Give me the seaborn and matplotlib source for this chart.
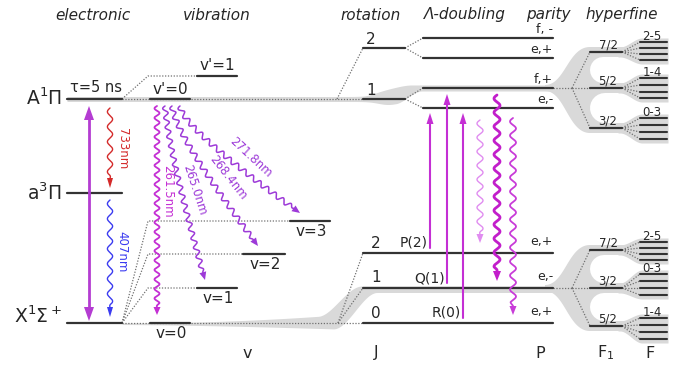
import numpy as np
import pandas as pd
import matplotlib
matplotlib.use('Agg')
import matplotlib.pyplot as plt
import seaborn as sns

# ---------------- data (level heights, px from top) ----------------
elec_labels = [r'A$^1\Pi$', r'a$^3\Pi$', r'X$^1\Sigma^+$']
elec_E = [99, 193, 323]

vib_up_labels = ["v'=0", "v'=1"]
vib_up_E = [99, 76]
vib_lo_labels = ['v=0', 'v=1', 'v=2', 'v=3']
vib_lo_E = [323, 288, 254, 221]

rot_up_labels = ['1', '2']
rot_up_E = [99, 48]
rot_lo_labels = ['0', '1', '2']
rot_lo_E = [323, 288, 253]

lam_labels = ['e,-', 'f,+', 'e,+', 'f, -']
lam_E = [108, 88, 58, 38]
par_lo_labels = ['e,+', 'e,-', 'e,+']

hf_up_F1 = ['7/2', '5/2', '3/2']
hf_up_E = [52, 88, 128]
hf_up_F = ['2-5', '1-4', '0-3']
hf_up_sub = [[42, 48, 54, 60], [78, 85, 92, 98], [118, 125, 132, 139]]
hf_lo_F1 = ['7/2', '3/2', '5/2']
hf_lo_E = [250, 288, 326]
hf_lo_F = ['2-5', '0-3', '1-4']
hf_lo_sub = [[242, 248, 254, 260], [274, 281, 288, 295], [318, 325, 332, 339]]

decay_labels = ['261.5nm', '265.0nm', '268.4nm', '271.8nm']
branch_labels = ['P(2)', 'Q(1)', 'R(0)']
branch_from_J = [2, 1, 0]
branch_to = [0, 1, 0]          # index into lam_E (e,- / f,+)

headers = ['electronic', 'vibration', 'rotation', '\u039b-doubling', 'parity', 'hyperfine']
footers = ['v', 'J', 'P', r'F$_1$', 'F']

# ---------------- layout / style ----------------
header_x = [93, 217, 371, 465, 548, 622]
footer_x = [247, 376, 540, 606, 650]
ELEC = (67, 122)
vib_up_x = [(150, 190), (197, 237)]
vib_lo_x = [(150, 190), (197, 237), (243, 285), (290, 330)]
ROT = (363, 405)
LAM = (423, 553)
F1X = (590, 622)
FX = (640, 667)

GREY = '#d9d9d9'
LINE = '#333333'
DOT = '#707070'
MAG = '#c42fd4'
VIO = '#9d3ad8'

sns.set_theme(style='white')
plt.rcParams['font.family'] = ['DejaVu Sans']
plt.rcParams['mathtext.fontset'] = 'dejavusans'

fig = plt.figure(figsize=(6.77, 3.66), dpi=100)
ax = fig.add_axes([0, 0, 1, 1])


def smooth(t):
    t = np.clip(t, 0, 1)
    return t * t * (3 - 2 * t)


def dotted(xs, ys):
    ax.plot(xs, ys, color=DOT, lw=0.9, ls=(0, (1, 1.3)), zorder=4)


def head(tip, d, length, hw, color):
    tip = np.asarray(tip, float)
    d = np.asarray(d, float) / np.hypot(*d)
    n = np.array([-d[1], d[0]])
    base = tip - d * length
    tri = np.array([tip, base + n * hw, base - n * hw])
    ax.fill(tri[:, 0], tri[:, 1], color=color, lw=0, zorder=7)


def arrow(x, y0, y1, color, lw, hl=11, hw=3.5, both=False):
    d = np.sign(y1 - y0)
    a = y0 + d * hl * 0.8 if both else y0
    ax.plot([x, x], [a, y1 - d * hl * 0.8], color=color, lw=lw, zorder=6)
    head((x, y1), (0, d), hl, hw, color)
    if both:
        head((x, y0), (0, -d), hl, hw, color)


def wavy(pts, color, lw, amp=2.6, lam=10, hl=8, hw=3.5):
    pts = np.asarray(pts, float)
    t = np.linspace(0, 1, 500)[:, None]
    if len(pts) == 3:
        path = (1 - t) ** 2 * pts[0] + 2 * (1 - t) * t * pts[1] + t ** 2 * pts[2]
    else:
        path = (1 - t) * pts[0] + t * pts[1]
    seg = np.hypot(*np.diff(path, axis=0).T)
    s = np.concatenate([[0], np.cumsum(seg)])
    L = s[-1]
    tx = np.gradient(path[:, 0], s)
    ty = np.gradient(path[:, 1], s)
    nn = np.hypot(tx, ty)
    tx, ty = tx / nn, ty / nn
    env = np.clip((L - hl - s) / 4, 0, 1)
    off = amp * np.sin(2 * np.pi * s / lam) * env
    x = path[:, 0] - ty * off
    y = path[:, 1] + tx * off
    m = s <= L - hl * 0.7
    ax.plot(x[m], y[m], color=color, lw=lw, zorder=6, solid_capstyle='round')
    head(path[-1], (tx[-1], ty[-1]), hl, hw, color)


# ---------------- grey bands ----------------
x = np.linspace(67, 553, 800)
top = 96.5 + (lam_E[1] - 3 - 96.5) * smooth((x - 362) / 50) - 1.5 * np.exp(-((x - 380) / 15) ** 2)
bot = 101.5 + 3 * np.exp(-((x - 388) / 14) ** 2) + (lam_E[1] + 3 - 101.5) * smooth((x - 396) / 26)
ax.fill_between(x, top, bot, color=GREY, lw=0, zorder=1)

x = np.linspace(122, 553, 800)
r = np.clip((x - 122) / 215, 0, None)
top = (323 - 8 * r ** 2) + (rot_lo_E[1] - 2 - (323 - 8 * r ** 2)) * smooth((x - 318) / 44)
bot = (324.5 + 4.5 * r ** 1.5) + (rot_lo_E[1] + 4.5 - (324.5 + 4.5 * r ** 1.5)) * smooth((x - 333) / 44)
ax.fill_between(x, top, bot, color=GREY, lw=0, zorder=1)


def hyperfine(y0, ys, sub, f1_labels, f_labels):
    ymin, ymax = min(ys) - 5, max(ys) + 5
    t = np.linspace(0, 1, 80)[:, None]
    def bez(p0, p1, p2, p3):
        return (1 - t) ** 3 * p0 + 3 * (1 - t) ** 2 * t * p1 + 3 * (1 - t) * t ** 2 * p2 + t ** 3 * p3
    up = bez(np.array([545, y0 - 3]), np.array([565, y0 - 3]), np.array([568, ymin]), np.array([590, ymin]))
    lo = bez(np.array([545, y0 + 3]), np.array([565, y0 + 3]), np.array([568, ymax]), np.array([590, ymax]))
    poly = np.vstack([up, [[F1X[1] + 2, ymin], [F1X[1] + 2, ymax]], lo[::-1]])
    ax.fill(poly[:, 0], poly[:, 1], color=GREY, lw=0, zorder=1)
    ys_sorted = sorted(ys)
    for a, b in zip(ys_sorted[:-1], ys_sorted[1:]):
        w = (b - 5) - (a + 5)
        ax.plot([590 + w / 2, 650], [(a + b) / 2] * 2, color='white', lw=w * 0.72,
                solid_capstyle='round', zorder=2)
    # F sub-level fans
    xf = np.linspace(F1X[1] - 4, FX[1] + 1, 120)
    for yb, fs, l1, lf in zip(ys, sub, f1_labels, f_labels):
        k = smooth((xf - F1X[1] + 2) / 22)
        ax.fill_between(xf, yb - 5 + (min(fs) - 4 - yb + 5) * k, yb + 5 + (max(fs) + 4 - yb - 5) * k,
                        color=GREY, lw=0, zorder=3)
        for yf in fs:
            dotted([F1X[1], FX[0]], [yb, yf])
            ax.plot(FX, [yf, yf], color=LINE, lw=1.5, zorder=5)
        ax.plot(F1X, [yb, yb], color=LINE, lw=1.6, zorder=5)
        ax.text(608, yb - 7, l1, ha='center', va='center', fontsize=8.5, zorder=8)
        ax.text(652, min(fs) - 6, lf, ha='center', va='center', fontsize=8.5, zorder=8)
    # dotted tree
    dotted([LAM[1], 572], [y0, y0])
    for yb in ys:
        dotted([572, F1X[0]], [y0, yb])


hyperfine(lam_E[1], hf_up_E, hf_up_sub, hf_up_F1, hf_up_F)
hyperfine(rot_lo_E[1], hf_lo_E, hf_lo_sub, hf_lo_F1, hf_lo_F)

# ---------------- dotted connectors ----------------
dotted([ELEC[1], ROT[0]], [elec_E[0]] * 2)
dotted([ELEC[1], 148, vib_up_x[1][0]], [elec_E[0], vib_up_E[1], vib_up_E[1]])
dotted([ELEC[1], ROT[0]], [elec_E[2]] * 2)
for (x0, _), e in zip(vib_lo_x[1:], vib_lo_E[1:]):
    dotted([ELEC[1], 148, x0], [elec_E[2], e, e])
dotted([337, ROT[0]], [rot_up_E[0], rot_up_E[1]])
for e in rot_lo_E[1:]:
    dotted([338, ROT[0]], [rot_lo_E[0], e])
for j, e in enumerate(rot_up_E):
    for lv in lam_E[2 * j:2 * j + 2]:
        dotted([ROT[1], LAM[0]], [e, lv])

# ---------------- level lines (seaborn) ----------------
segs = []
def add(x0, x1, y):
    segs.append({'x': x0, 'y': y, 'seg': len(segs)})
    segs.append({'x': x1, 'y': y, 'seg': len(segs) - 1})

for e in elec_E:
    add(*ELEC, e)
for xr, e in zip(vib_up_x, vib_up_E):
    add(*xr, e)
for xr, e in zip(vib_lo_x, vib_lo_E):
    add(*xr, e)
for e in rot_up_E:
    add(*ROT, e)
for e in rot_lo_E:
    add(ROT[0], LAM[1], e)
for e in lam_E:
    add(*LAM, e)
df = pd.DataFrame(segs)
sns.lineplot(data=df, x='x', y='y', units='seg', estimator=None, sort=False,
             color=LINE, lw=1.6, ax=ax, legend=False, zorder=5)

# ---------------- transitions ----------------
arrow(89, elec_E[0] + 7, elec_E[2] - 2, '#b43cd2', 2.0, hl=14, hw=5, both=True)
wavy([(110, elec_E[0] + 9), (110, elec_E[1] - 5)], '#d42a2a', 1.0, amp=2.6, lam=15, hl=10, hw=3)
wavy([(110, elec_E[1] + 7), (110, elec_E[2] - 6)], '#3b3bf0', 1.0, amp=2.6, lam=15, hl=10, hw=3)
ax.text(122, 149, '733nm', rotation=-90, color='#d42a2a', ha='center', va='center', fontsize=8.5)
ax.text(122, 252, '407nm', rotation=-90, color='#3b3bf0', ha='center', va='center', fontsize=8.5)

decay_start = [157, 165, 172, 180]
decay_ctrl = [None, (168, 150), (175, 135), (182, 128)]
decay_tip = [157, 205, 258, 300]
decay_text = [(168, 191, -90), (195, 190, -72), (228, 178, -52), (251, 157, -43)]
for i, (lab, e) in enumerate(zip(decay_labels, vib_lo_E)):
    col = MAG if i == 0 else VIO
    p0 = (decay_start[i], vib_up_E[0] + 7)
    p2 = (decay_tip[i], e - 8)
    pts = [p0, p2] if decay_ctrl[i] is None else [p0, decay_ctrl[i], p2]
    wavy(pts, col, 1.3 if i == 0 else 1.1, amp=2.5, lam=9.5, hl=8, hw=3.5)
    tx, ty, rot = decay_text[i]
    ax.text(tx, ty, lab, rotation=rot, color=col, ha='center', va='center',
            fontsize=8.5, rotation_mode='anchor')

branch_x = [430, 447, 463]
for lab, j, k, bx in zip(branch_labels, branch_from_J, branch_to, branch_x):
    e = rot_lo_E[j]
    arrow(bx, e - 5, lam_E[k] + (6 if k == 1 else 5), MAG, 1.5, hl=11, hw=3.5)
    ax.text(bx - 2, e - 10, lab, ha='right', va='center', fontsize=10)

wavy([(480, 120), (480, rot_lo_E[2] - 10)], '#e08cf0', 1.0, amp=3, lam=14, hl=9, hw=3.5)
wavy([(497, 95), (497, rot_lo_E[1] - 7)], '#c21ecb', 2.0, amp=3, lam=14, hl=10, hw=4)
wavy([(513, 118), (513, rot_lo_E[0] - 8)], '#c83cd8', 1.3, amp=3, lam=14, hl=9, hw=3.5)

# ---------------- labels ----------------
for lab, e, dy in zip(elec_labels, elec_E, [-1, 0, -7]):
    ax.text(62, e + dy, lab, ha='right', va='center', fontsize=13.5)
ax.text(96, 87, '\u03c4=5 ns', ha='center', va='center', fontsize=10.5)

for lab, xr, e in zip(vib_up_labels, vib_up_x, vib_up_E):
    ax.text(sum(xr) / 2, e - 10, lab, ha='center', va='center', fontsize=11)
for lab, xr, e in zip(vib_lo_labels, vib_lo_x, vib_lo_E):
    ax.text(sum(xr) / 2 + 1, e + 10.5, lab, ha='center', va='center', fontsize=11)

for lab, e in zip(rot_up_labels, rot_up_E):
    ax.text(371, e - 8.5, lab, ha='center', va='center', fontsize=11)
for lab, e in zip(rot_lo_labels, rot_lo_E):
    ax.text(376, e - 10, lab, ha='center', va='center', fontsize=11)

for lab, e in zip(lam_labels, lam_E):
    ax.text(LAM[1], e - 1.5, lab, ha='right', va='bottom', fontsize=9)
for lab, e in zip(par_lo_labels, rot_lo_E):
    ax.text(LAM[1], e - 5, lab, ha='right', va='bottom', fontsize=9)

for lab, hx in zip(headers, header_x):
    ax.text(hx, 15, lab, ha='center', va='center', fontsize=11, style='italic')
for lab, fx in zip(footers, footer_x):
    ax.text(fx, 353, lab, ha='center', va='center', fontsize=11.5)

ax.set_xlim(0, 677)
ax.set_ylim(366, 0)
ax.axis('off')
fig.savefig('out.png', dpi=100, facecolor='white')
